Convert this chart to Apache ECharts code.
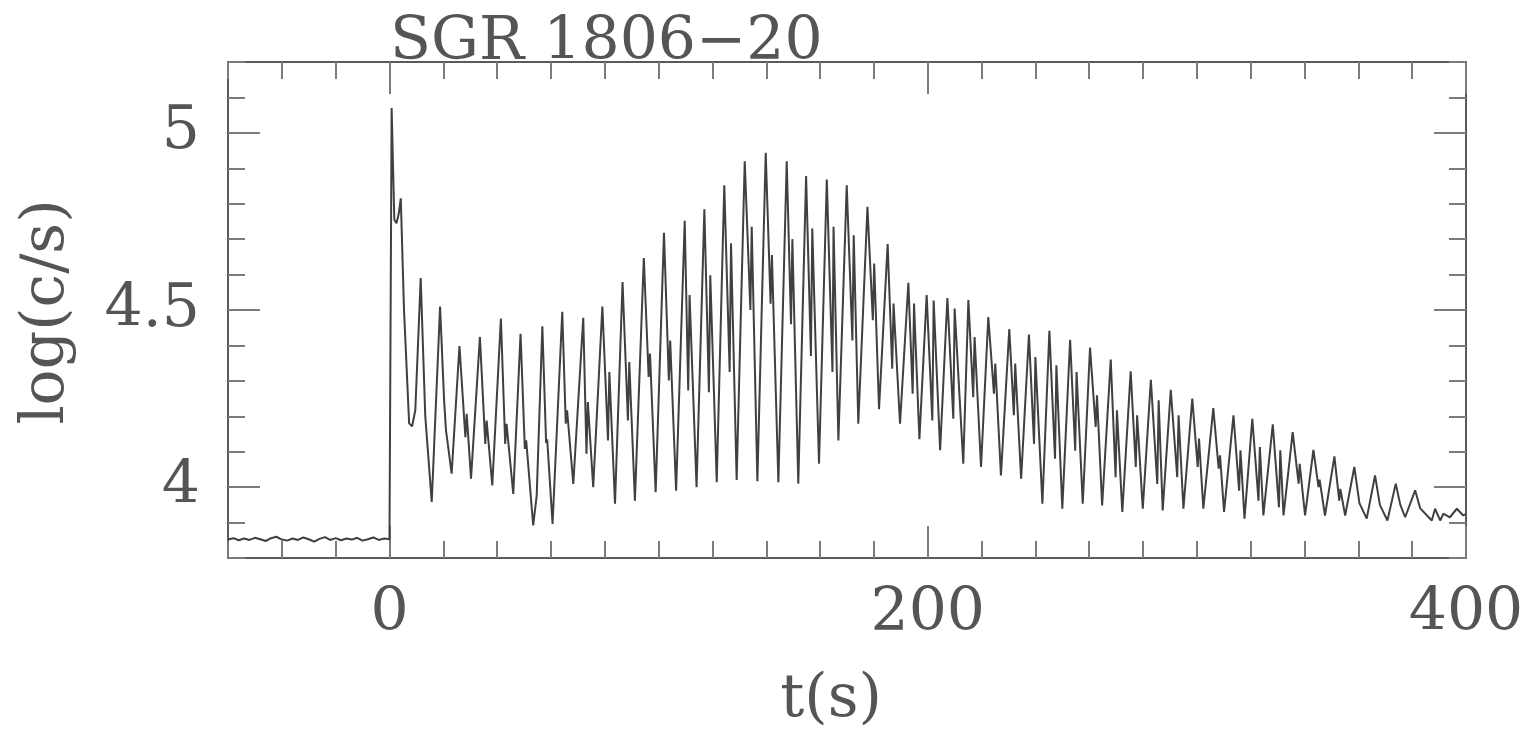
<!DOCTYPE html>
<html>
<head>
<meta charset="utf-8">
<title>SGR 1806-20</title>
<script src="https://cdn.jsdelivr.net/npm/echarts@6/dist/echarts.min.js"></script>
<style>
  html, body { margin: 0; padding: 0; background: #ffffff; }
  #chart { width: 1528px; height: 736px; }
</style>
</head>
<body>
<div id="chart"></div>
<script>
// Pre-burst background level, log10(counts/s)
const preBurstTime = [-60, -58, -56, -54, -52, -50, -48, -46, -44, -42, -40, -38, -36, -34, -32,
  -30, -28, -26, -24, -22, -20, -18, -16, -14, -12, -10, -8, -6, -4, -2, 0];
const preBurstRate = [3.852, 3.856, 3.850, 3.855, 3.851, 3.857, 3.853, 3.848, 3.856, 3.860, 3.852,
  3.849, 3.855, 3.851, 3.858, 3.853, 3.846, 3.854, 3.859, 3.851, 3.856, 3.850, 3.855, 3.852, 3.857,
  3.849, 3.853, 3.858, 3.851, 3.855, 3.853];

// Initial spike and the pulsating tail (7.56 s rotation), log10(counts/s)
const burstTime = [
  0.8, 1.8, 2.6, 3.4, 4.2, 5.4, 7.3, 8.4, 9.6, 11.6, 13.3, 15.7, 18.8, 20.3, 21.0, 23.1,
  26.0, 28.2, 28.7, 30.3, 33.6, 35.6, 36.1, 38.2, 41.4, 43.0, 43.5, 46.0,
  48.7, 50.3, 50.8, 53.4, 54.7, 56.8, 58.2, 58.6, 60.6,
  64.2, 65.5, 66.0, 68.3, 72.0, 73.2, 73.7, 75.7, 79.1, 81.2, 81.7, 83.8,
  86.6, 88.6, 89.1, 91.2, 94.5, 96.3, 96.8, 98.9, 102.0, 103.8, 104.3, 106.5,
  109.7, 111.0, 111.5, 114.1, 117.0, 118.7, 119.2, 121.6, 124.4, 126.4, 126.9, 129.0,
  132.0, 134.1, 134.6, 136.7, 139.8, 141.6, 142.1, 144.5, 147.6, 149.2, 149.7, 151.9,
  154.8, 156.6, 157.1, 159.6, 162.5, 164.6, 165.0, 166.8, 169.9, 172.0, 172.5, 174.2,
  177.6, 179.6, 180.1, 181.9, 185.1, 186.8, 187.3, 189.7, 192.8, 194.4, 194.9, 196.9,
  199.6, 201.7, 202.2, 204.6, 207.3, 209.5, 210.0, 213.2, 215.1, 216.9, 217.4, 219.8,
  222.5, 224.6, 225.1, 227.2, 230.3, 232.0, 232.5, 234.7, 237.6, 239.5, 240.0, 242.6,
  245.2, 247.3, 247.8, 250.0, 252.9, 254.8, 255.3, 257.6, 260.3, 262.4, 262.9, 264.8,
  268.0, 269.8, 270.3, 272.3, 275.4, 277.3, 277.8, 279.9, 282.9, 285.3, 285.8, 287.3,
  290.3, 292.7, 293.2, 295.0, 298.3, 300.3, 300.8, 302.4, 306.1, 308.1, 308.6, 310.1,
  313.6, 315.7, 316.2, 317.7, 320.6, 322.9, 323.4, 324.7, 328.2, 330.5, 331.0, 332.2,
  335.6, 337.8, 338.2, 340.2, 343.3, 345.2, 345.6, 347.6, 351.1, 352.9, 353.3, 355.1,
  358.5, 360.4, 363.1, 366.2, 368.0, 370.8, 373.9, 375.6, 377.4, 381.1, 383.0, 385.5,
  387.3, 388.5, 390.4, 391.6, 394.0, 396.6, 399.0, 400.0
];
const burstRate = [
  5.070, 4.755, 4.745, 4.770, 4.815, 4.500, 4.180, 4.172, 4.217, 4.590, 4.200, 3.958, 4.510, 4.245, 4.160, 4.038,
  4.398, 4.141, 4.207, 4.024, 4.424, 4.122, 4.188, 4.005, 4.476, 4.122, 4.179, 3.981,
  4.433, 4.108, 4.132, 3.892, 3.976, 4.454, 4.125, 4.135, 3.896,
  4.495, 4.179, 4.217, 4.009, 4.478, 4.094, 4.240, 4.000, 4.510, 4.132, 4.325, 3.953,
  4.579, 4.188, 4.353, 3.962, 4.647, 4.311, 4.377, 3.986, 4.718, 4.301, 4.414, 3.990,
  4.752, 4.273, 4.542, 4.000, 4.784, 4.268, 4.598, 4.014, 4.852, 4.325, 4.688, 4.020,
  4.920, 4.500, 4.735, 4.017, 4.944, 4.518, 4.655, 4.014, 4.920, 4.460, 4.700, 4.010,
  4.878, 4.370, 4.730, 4.066, 4.868, 4.325, 4.735, 4.132, 4.852, 4.414, 4.711, 4.179,
  4.791, 4.471, 4.631, 4.220, 4.686, 4.334, 4.518, 4.179, 4.577, 4.264, 4.518, 4.135,
  4.542, 4.188, 4.527, 4.104, 4.534, 4.193, 4.504, 4.066, 4.528, 4.254, 4.424, 4.057,
  4.480, 4.264, 4.349, 4.033, 4.446, 4.203, 4.349, 4.024, 4.431, 4.122, 4.367, 3.953,
  4.441, 4.080, 4.344, 3.939, 4.416, 4.103, 4.325, 3.953, 4.394, 4.170, 4.259, 3.948,
  4.360, 4.028, 4.217, 3.930, 4.327, 4.057, 4.203, 3.939, 4.303, 4.009, 4.245, 3.934,
  4.275, 4.028, 4.203, 3.939, 4.250, 4.057, 4.137, 3.939, 4.223, 4.052, 4.090, 3.930,
  4.203, 3.990, 4.104, 3.911, 4.193, 3.962, 4.113, 3.920, 4.177, 3.943, 4.104, 3.920,
  4.155, 4.010, 4.066, 3.920, 4.105, 4.000, 4.021, 3.920, 4.087, 3.962, 3.995, 3.920,
  4.057, 3.955, 3.911, 4.033, 3.950, 3.906, 4.010, 3.950, 3.915, 3.991, 3.940, 3.920,
  3.906, 3.939, 3.906, 3.925, 3.915, 3.939, 3.920, 3.925
];

// Axis ranges and labelled ticks
const xRange = [-60, 400];
const yRange = [3.8, 5.2];
const xMinorStep = 20;
const yMinorStep = 0.1;
const xMajorTicks = [0, 200, 400];
const yMajorTicks = [4, 4.5, 5];

const titleText = 'SGR 1806\u221220';
const xTitle = 't(s)';
const yTitle = 'log(c/s)';

const FONT = '"DejaVu Serif", "Liberation Serif", serif';
const TEXT_COLOR = '#555';
const FRAME_COLOR = '#5a5a5a';
const TICK_COLOR = '#7c7c7c';
const MINOR_LEN = 17;
const MAJOR_LEN = 32;

const points = [];
preBurstTime.forEach((t, i) => points.push([t, preBurstRate[i]]));
burstTime.forEach((t, i) => points.push([t, burstRate[i]]));

// One axis per side for the short 'minor' ticks (and the frame line),
// and an overlapping one for the long labelled ticks.
function makeAxis(dim, position, major, withLabels) {
  const range = dim === 'x' ? xRange : yRange;
  const axis = {
    type: 'value',
    position: position,
    min: range[0],
    max: range[1],
    scale: true,
    splitLine: { show: false },
    axisLine: { show: !major, onZero: false, lineStyle: { color: FRAME_COLOR, width: 2 } },
    axisTick: {
      show: true,
      inside: true,
      length: major ? MAJOR_LEN : MINOR_LEN,
      lineStyle: { color: TICK_COLOR, width: 2 }
    },
    axisLabel: { show: false }
  };
  if (major) {
    axis.axisTick.customValues = dim === 'x' ? xMajorTicks : yMajorTicks;
  } else {
    axis.interval = dim === 'x' ? xMinorStep : yMinorStep;
  }
  if (withLabels) {
    axis.axisLabel = {
      show: true,
      customValues: dim === 'x' ? xMajorTicks : yMajorTicks,
      formatter: v => String(v),
      fontFamily: FONT,
      fontSize: 60,
      color: TEXT_COLOR,
      margin: dim === 'x' ? 26 : 28
    };
  }
  return axis;
}

const chart = echarts.init(document.getElementById('chart'), null, { renderer: 'canvas' });

chart.setOption({
  animation: false,
  backgroundColor: '#ffffff',
  grid: { left: 228, right: 62, top: 62, bottom: 178, containLabel: false },
  xAxis: [
    makeAxis('x', 'bottom', false, false),
    makeAxis('x', 'bottom', true, true),
    makeAxis('x', 'top', false, false),
    makeAxis('x', 'top', true, false)
  ],
  yAxis: [
    makeAxis('y', 'left', false, false),
    makeAxis('y', 'left', true, true),
    makeAxis('y', 'right', false, false),
    makeAxis('y', 'right', true, false)
  ],
  series: [{
    type: 'line',
    xAxisIndex: 0,
    yAxisIndex: 0,
    data: points,
    showSymbol: false,
    symbol: 'none',
    smooth: false,
    lineStyle: { color: '#404040', width: 2 },
    z: 1
  }],
  graphic: [
    {
      type: 'text', x: 390, y: 43,
      style: { text: titleText, font: '60px ' + FONT, fill: TEXT_COLOR, align: 'left', verticalAlign: 'middle' }
    },
    {
      type: 'text', x: 831, y: 700,
      style: { text: xTitle, font: '60px ' + FONT, fill: TEXT_COLOR, align: 'center', verticalAlign: 'middle' }
    },
    {
      type: 'text', x: 47, y: 312, rotation: Math.PI / 2,
      style: { text: yTitle, font: '60px ' + FONT, fill: TEXT_COLOR, align: 'center', verticalAlign: 'middle' }
    }
  ]
});
</script>
</body>
</html>
